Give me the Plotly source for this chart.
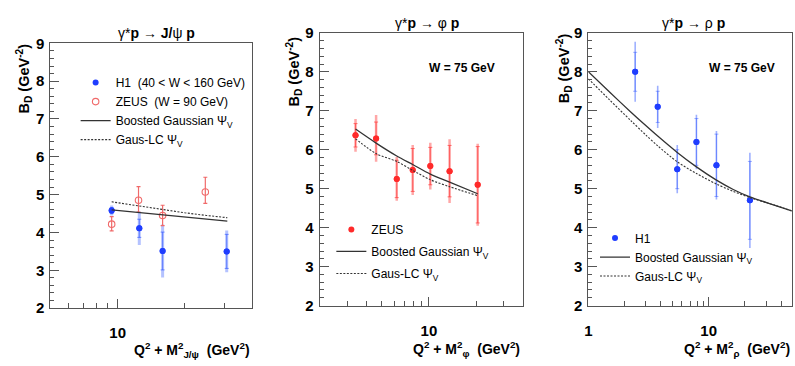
import math
import plotly.graph_objects as go

# ---------------- data ----------------
# Panel 1: gamma* p -> J/psi p
jpsi_h1_x = [9.4, 12.5, 15.9, 30.8]
jpsi_h1_y = [4.58, 4.11, 3.51, 3.50]
jpsi_h1_err = [0.13, 0.44, 0.70, 0.55]
jpsi_h1_stat = [0.08, 0.24, 0.50, 0.45]

jpsi_zeus_x = [9.4, 12.4, 15.9, 24.7]
jpsi_zeus_y = [4.22, 4.85, 4.45, 5.07]
jpsi_zeus_err_up = [0.20, 0.36, 0.27, 0.39]
jpsi_zeus_err_dn = [0.18, 0.31, 0.27, 0.30]

jpsi_model_x = [9.4, 12, 15, 20, 25, 31]
jpsi_bg_y = [4.60, 4.54, 4.48, 4.41, 4.35, 4.30]
jpsi_lc_y = [4.81, 4.71, 4.62, 4.52, 4.45, 4.39]

# Panel 2: gamma* p -> phi p (ZEUS)
phi_x = [3.39, 4.59, 6.22, 7.87, 10.2, 13.55, 20.5]
phi_y = [6.37, 6.29, 5.25, 5.48, 5.58, 5.45, 5.10]
phi_err = [0.42, 0.60, 0.56, 0.64, 0.60, 0.82, 1.05]
phi_stat = [0.30, 0.42, 0.48, 0.55, 0.48, 0.66, 0.98]

phi_model_x = [3.39, 4.59, 6.22, 7.87, 10.2, 13.55, 20.5]
phi_bg_y = [6.53, 6.17, 5.84, 5.62, 5.375, 5.17, 4.87]
phi_lc_y = [6.28, 5.90, 5.70, 5.47, 5.23, 5.05, 4.82]

# Panel 3: gamma* p -> rho p (H1)
rho_x = [2.45, 3.77, 5.48, 7.91, 11.6, 22.0]
rho_y = [8.0, 7.1, 5.5, 6.2, 5.6, 4.7]
rho_err = [0.77, 0.54, 0.62, 0.70, 0.88, 1.22]
rho_stat = [0.50, 0.40, 0.50, 0.60, 0.80, 1.00]

rho_model_x = [1, 1.5, 2.25, 3.0, 3.77, 5.48, 7.91, 11.6, 16, 22, 35, 49]
rho_bg_y = [8.0, 7.48, 6.97, 6.62, 6.35, 5.93, 5.56, 5.22, 4.98, 4.79, 4.58, 4.43]
rho_lc_y = [7.82, 7.28, 6.75, 6.38, 6.10, 5.69, 5.39, 5.12, 4.93, 4.77, 4.58, 4.43]

# ---------------- styling ----------------
W, H = 795, 366
FONT = "Liberation Sans, Arial, Helvetica, sans-serif"
BLUE = "#1f3dff"
BLUE_ERR = "rgba(40,80,255,0.35)"
RED = "#ff2a2a"
RED_ERR = "rgba(255,60,60,0.45)"
PINK = "#f06a6a"
CURVE = "#333333"
AX = "#555555"
DASH = "2px,1.5px"


def px(x):
    return x / W


def py(y):
    return 1 - y / H


fig = go.Figure()

# ---- Panel 1 ----
fig.add_trace(go.Scatter(
    x=jpsi_h1_x, y=jpsi_h1_y, mode="markers", name="H1  (40 < W < 160 GeV)",
    marker=dict(color=BLUE, size=6),
    error_y=dict(type="data", array=jpsi_h1_err, color=BLUE_ERR, thickness=3, width=0),
    xaxis="x", yaxis="y", legend="legend", legendgroup="a1"))
fig.add_trace(go.Scatter(
    x=jpsi_h1_x, y=jpsi_h1_y, mode="markers", showlegend=False,
    marker=dict(color=BLUE, size=6),
    error_y=dict(type="data", array=jpsi_h1_stat, color="rgba(40,80,255,0.6)", thickness=1, width=2),
    xaxis="x", yaxis="y", hoverinfo="skip"))
fig.add_trace(go.Scatter(
    x=jpsi_zeus_x, y=jpsi_zeus_y, mode="markers", name="ZEUS  (W = 90 GeV)",
    marker=dict(color=PINK, size=6.5, symbol="circle-open", line=dict(color=PINK, width=1.1)),
    error_y=dict(type="data", array=jpsi_zeus_err_up, arrayminus=jpsi_zeus_err_dn,
                 color=PINK, thickness=1.2, width=2),
    xaxis="x", yaxis="y", legend="legend", legendgroup="a2"))
fig.add_trace(go.Scatter(
    x=jpsi_model_x, y=jpsi_bg_y, mode="lines", name="Boosted Gaussian Ψ<sub>V</sub>",
    line=dict(color=CURVE, width=1.3), xaxis="x", yaxis="y", legend="legend", legendgroup="a3"))
fig.add_trace(go.Scatter(
    x=jpsi_model_x, y=jpsi_lc_y, mode="lines", name="Gaus-LC Ψ<sub>V</sub>",
    line=dict(color=CURVE, width=1.1, dash=DASH), xaxis="x", yaxis="y",
    legend="legend", legendgroup="a4"))

# ---- Panel 2 ----
fig.add_trace(go.Scatter(
    x=phi_x, y=phi_y, mode="markers", name="ZEUS",
    marker=dict(color=RED, size=6),
    error_y=dict(type="data", array=phi_err, color=RED_ERR, thickness=2.5, width=0),
    xaxis="x2", yaxis="y2", legend="legend2", legendgroup="b1"))
fig.add_trace(go.Scatter(
    x=phi_x, y=phi_y, mode="markers", showlegend=False,
    marker=dict(color=RED, size=6),
    error_y=dict(type="data", array=phi_stat, color="rgba(255,60,60,0.7)", thickness=1, width=2),
    xaxis="x2", yaxis="y2", hoverinfo="skip"))
fig.add_trace(go.Scatter(
    x=phi_model_x, y=phi_bg_y, mode="lines", name="Boosted Gaussian Ψ<sub>V</sub>",
    line=dict(color=CURVE, width=1.3, shape="spline", smoothing=0.8),
    xaxis="x2", yaxis="y2", legend="legend2", legendgroup="b2"))
fig.add_trace(go.Scatter(
    x=phi_model_x, y=phi_lc_y, mode="lines", name="Gaus-LC Ψ<sub>V</sub>",
    line=dict(color=CURVE, width=1.1, dash=DASH, shape="spline", smoothing=0.8),
    xaxis="x2", yaxis="y2", legend="legend2", legendgroup="b3"))

# ---- Panel 3 ----
fig.add_trace(go.Scatter(
    x=rho_x, y=rho_y, mode="markers", name="H1",
    marker=dict(color=BLUE, size=6),
    error_y=dict(type="data", array=rho_err, color="rgba(40,80,255,0.45)", thickness=1.6, width=0),
    xaxis="x3", yaxis="y3", legend="legend3", legendgroup="c1"))
fig.add_trace(go.Scatter(
    x=rho_x, y=rho_y, mode="markers", showlegend=False,
    marker=dict(color=BLUE, size=6),
    error_y=dict(type="data", array=rho_stat, color="rgba(40,80,255,0.45)", thickness=1, width=2),
    xaxis="x3", yaxis="y3", hoverinfo="skip"))
fig.add_trace(go.Scatter(
    x=rho_model_x, y=rho_bg_y, mode="lines", name="Boosted Gaussian Ψ<sub>V</sub>",
    line=dict(color=CURVE, width=1.3, shape="spline", smoothing=0.8),
    xaxis="x3", yaxis="y3", legend="legend3", legendgroup="c2"))
fig.add_trace(go.Scatter(
    x=rho_model_x, y=rho_lc_y, mode="lines", name="Gaus-LC Ψ<sub>V</sub>",
    line=dict(color=CURVE, width=1.1, dash=DASH, shape="spline", smoothing=0.8),
    xaxis="x3", yaxis="y3", legend="legend3", legendgroup="c3"))

# ---------------- axes ----------------
tickfont = dict(family=FONT, size=15, color="black", weight="bold")


def yax(top, bottom, anchor):
    return dict(
        domain=[py(bottom), py(top)], range=[2, 9], dtick=1, tick0=0,
        ticks="inside", ticklen=9, tickwidth=1, tickcolor=AX,
        minor=dict(ticks="inside", ticklen=4, dtick=0.2, tickcolor=AX, tickwidth=1),
        showline=True, linecolor=AX, linewidth=1, mirror=True,
        showgrid=False, zeroline=False, tickfont=tickfont, anchor=anchor,
        ticklabelstandoff=2)


def xax(left, right, rng, major, minor, anchor):
    return dict(
        domain=[px(left), px(right)], type="log", range=rng,
        tickmode="array", tickvals=major, ticktext=[str(v) for v in major],
        ticks="inside", ticklen=9, tickwidth=1, tickcolor=AX,
        minor=dict(ticks="inside", ticklen=5, tickmode="array", tickvals=minor,
                   tickcolor=AX, tickwidth=1),
        showline=True, linecolor=AX, linewidth=1, mirror=True,
        showgrid=False, zeroline=False, tickfont=tickfont, anchor=anchor,
        ticklabelstandoff=11)


layout = dict(
    width=W, height=H, margin=dict(l=0, r=0, t=0, b=0),
    paper_bgcolor="white", plot_bgcolor="white",
    font=dict(family=FONT, color="black"),
    xaxis=xax(46.7, 249.3, [math.log10(5), math.log10(40)], [10], [6, 7, 8, 9, 20, 30], "y"),
    yaxis=yax(36, 313.7, "x"),
    xaxis2=xax(317.3, 521.7, [math.log10(2), math.log10(40)], [10], [3, 4, 5, 6, 7, 8, 9, 20, 30], "y2"),
    yaxis2=yax(25, 311, "x2"),
    xaxis3=xax(587.3, 791.7, [0, 1.69], [1, 10], [2, 3, 4, 5, 6, 7, 8, 9, 20, 30, 40], "y3"),
    yaxis3=yax(25, 311, "x3"),
    showlegend=True,
)

legfont = dict(family=FONT, size=12, color="black")
layout["legend"] = dict(x=px(72), y=py(62), xanchor="left", yanchor="top",
                        bgcolor="rgba(0,0,0,0)", font=legfont, traceorder="grouped",
                        tracegroupgap=0, itemwidth=30)
layout["legend2"] = dict(x=px(329), y=py(216), xanchor="left", yanchor="top",
                         bgcolor="rgba(0,0,0,0)", font=legfont, traceorder="grouped",
                         tracegroupgap=3, itemwidth=30)
layout["legend3"] = dict(x=px(594), y=py(225), xanchor="left", yanchor="top",
                         bgcolor="rgba(0,0,0,0)", font=legfont, traceorder="grouped",
                         tracegroupgap=0, itemwidth=30)

fig.update_layout(**layout)

# ---------------- text ----------------
ann = []
titles = [
    (153, 25, "γ*<b>p</b> → <b>J/</b>ψ <b>p</b>"),
    (425, 15, "γ*<b>p</b> → φ <b>p</b>"),
    (693, 15, "γ*<b>p</b> → ρ <b>p</b>"),
]
for x, y, t in titles:
    ann.append(dict(x=px(x), y=py(y), xref="paper", yref="paper", text=t, showarrow=False,
                    font=dict(family=FONT, size=14, color="black"), xanchor="center", yanchor="middle"))

ytitle = "<b>B<sub>D</sub> (GeV<sup>-2</sup>)</b>"
for x, y in [(20, 73), (291, 66), (563, 62)]:
    ann.append(dict(x=px(x), y=py(y), xref="paper", yref="paper", text=ytitle, showarrow=False,
                    textangle=-90, font=dict(family=FONT, size=14.5, color="black"),
                    xanchor="center", yanchor="middle"))

xtitles = [
    (249, 358, "<b>Q<sup>2</sup> + M<sup>2</sup><sub>J/ψ</sub>  (GeV<sup>2</sup>)</b>"),
    (521, 357, "<b>Q<sup>2</sup> + M<sup>2</sup><sub>φ</sub>  (GeV<sup>2</sup>)</b>"),
    (792, 357, "<b>Q<sup>2</sup> + M<sup>2</sup><sub>ρ</sub>  (GeV<sup>2</sup>)</b>"),
]
for x, y, t in xtitles:
    ann.append(dict(x=px(x), y=py(y), xref="paper", yref="paper", text=t, showarrow=False,
                    font=dict(family=FONT, size=14, color="black"), xanchor="right", yanchor="middle"))

for x in [460, 741.7]:
    ann.append(dict(x=px(x), y=py(62), xref="paper", yref="paper", text="<b>W = 75 GeV</b>",
                    showarrow=False, font=dict(family=FONT, size=12, color="black"),
                    xanchor="center", yanchor="middle"))

fig.update_layout(annotations=ann)
fig.write_html("out.html")
